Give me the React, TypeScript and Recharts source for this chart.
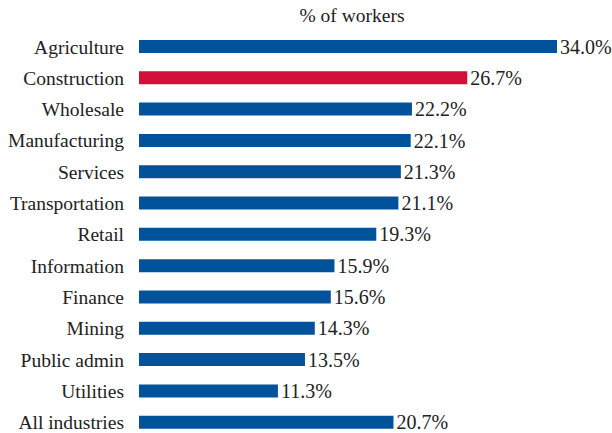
import { BarChart, Bar, XAxis, YAxis, Cell, LabelList } from "recharts"

const categories = [
  "Agriculture",
  "Construction",
  "Wholesale",
  "Manufacturing",
  "Services",
  "Transportation",
  "Retail",
  "Information",
  "Finance",
  "Mining",
  "Public admin",
  "Utilities",
  "All industries",
]

const shares = [34.0, 26.7, 22.2, 22.1, 21.3, 21.1, 19.3, 15.9, 15.6, 14.3, 13.5, 11.3, 20.7]

const highlight = "Construction"

const data = categories.map((name, i) => ({ name, value: shares[i] }))

const BLUE = "#00539b"
const RED = "#d0103a"
const FONT = "Liberation Serif"

export default function App() {
  return (
    <div style={{ position: "fixed", top: 0, left: 0, width: 612, height: 433, overflow: "hidden", background: "#fff" }}>
      <div
        style={{
          position: "absolute",
          top: 5,
          left: 0,
          width: 704,
          textAlign: "center",
          fontFamily: FONT,
          fontSize: 19.5,
          color: "#222",
        }}
      >
        % of workers
      </div>
      <BarChart
        width={612}
        height={440}
        data={data}
        layout="vertical"
        margin={{ top: 31, right: 55, bottom: 2, left: 0 }}
        barSize={13}
      >
        <XAxis type="number" domain={[0, 34]} hide />
        <YAxis
          type="category"
          dataKey="name"
          width={139}
          axisLine={false}
          tickLine={false}
          tickSize={0}
          tickMargin={15}
          interval={0}
          tick={{ fontSize: 19.5, fontFamily: FONT, fill: "#222" }}
        />
        <Bar dataKey="value" isAnimationActive={false}>
          {data.map((d) => (
            <Cell key={d.name} fill={d.name === highlight ? RED : BLUE} />
          ))}
          <LabelList
            dataKey="value"
            position="right"
            offset={3}
            formatter={(v: number) => `${v.toFixed(1)}%`}
            fontFamily={FONT}
            fontSize={20}
            fill="#222"
          />
        </Bar>
      </BarChart>
    </div>
  )
}
